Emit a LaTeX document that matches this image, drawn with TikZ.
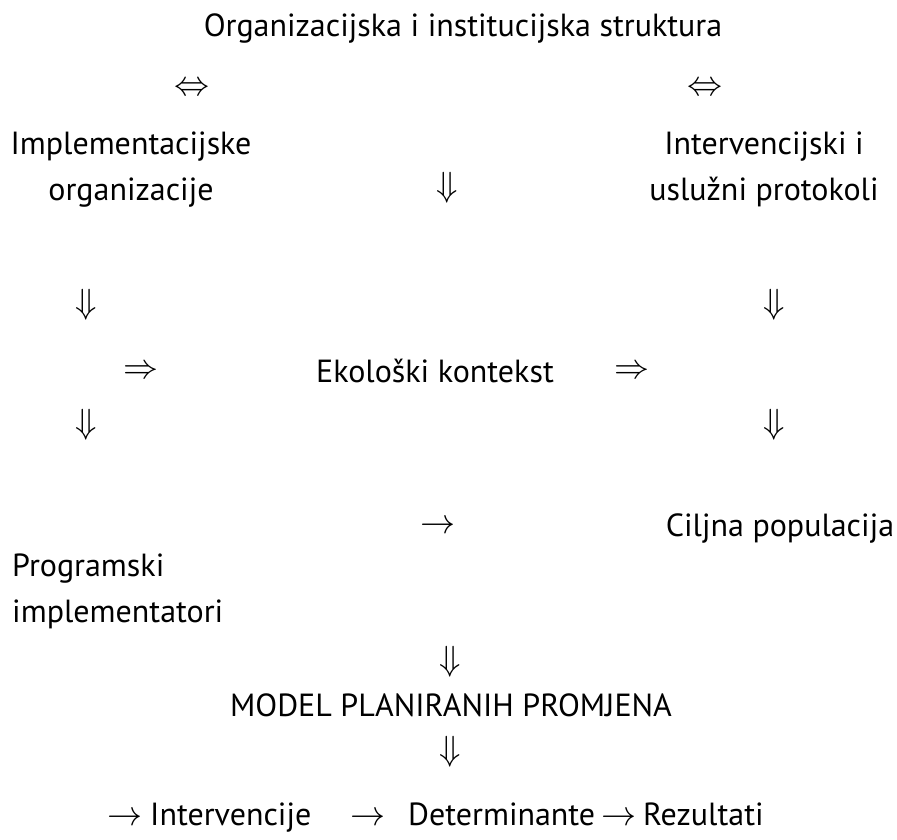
\documentclass[tikz,border=0pt]{standalone}
\usepackage{fontspec}
\setmainfont{PT Sans}
\begin{document}
\begin{tikzpicture}[x=1pt,y=-1pt,
  txt/.style={inner sep=0pt, anchor=base, font=\fontsize{32}{38}\selectfont},
  arr/.style={inner sep=0pt, scale=3.5, font=\normalsize},
  barr/.style={inner sep=0pt, anchor=base, scale=3.5, font=\normalsize}]
\useasboundingbox (0,0) rectangle (897,839);
% top
\node[txt] (title) at (463,36) {Organizacijska i institucijska struktura};
\node[arr] (lrl) at (192,89) {$\Leftrightarrow$};
\node[arr] (lrr) at (705,89) {$\Leftrightarrow$};
% upper blocks
\node[txt] (impla) at (131,154) {Implementacijske};
\node[txt] (implb) at (131,200) {organizacije};
\node[txt] (inta) at (764,154) {Intervencijski i};
\node[txt] (intb) at (764,200) {uslužni protokoli};
\node[arr] (dc) at (447,188) {$\Downarrow$};
% middle
\node[arr] (dl1) at (86,305) {$\Downarrow$};
\node[arr] (dr1) at (774,305) {$\Downarrow$};
\node[arr] (rl) at (141,372) {$\Rightarrow$};
\node[txt] (eko) at (435,382) {Ekološki kontekst};
\node[arr] (rr) at (632,372) {$\Rightarrow$};
\node[arr] (dl2) at (86,425) {$\Downarrow$};
\node[arr] (dr2) at (774,425) {$\Downarrow$};
% lower blocks
\node[txt, anchor=base west] (proga) at (12,576) {Programski};
\node[txt, anchor=base west] (progb) at (12,622) {implementatori};
\node[arr] (mid) at (438,527) {$\rightarrow$};
\node[txt] (cilj) at (780,536) {Ciljna populacija};
% model
\node[arr] (d3) at (450,662) {$\Downarrow$};
\node[txt] (model) at (451,716) {MODEL PLANIRANIH PROMJENA};
\node[arr] (d4) at (450,752) {$\Downarrow$};
% bottom row
\node[barr] (a1) at (125,825) {$\rightarrow$};
\node[txt, anchor=base west] (iv) at (150,825) {Intervencije};
\node[barr] (a2) at (368,825) {$\rightarrow$};
\node[txt, anchor=base west] (det) at (408,825) {Determinante};
\node[barr] (a3) at (619,825) {$\rightarrow$};
\node[txt, anchor=base west] (rez) at (643,825) {Rezultati};
\end{tikzpicture}
\end{document}
